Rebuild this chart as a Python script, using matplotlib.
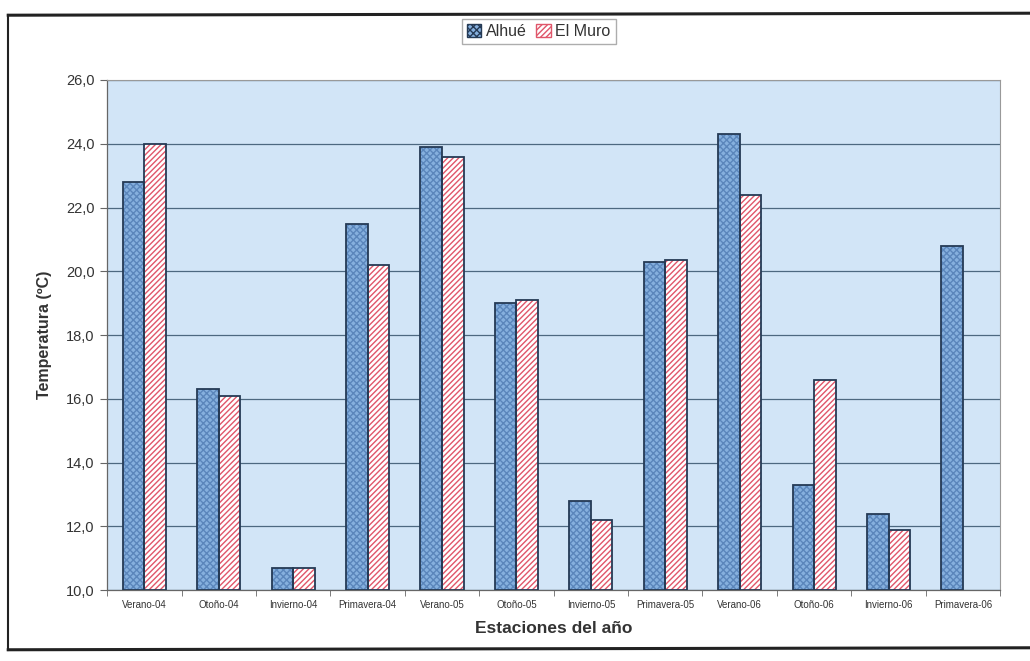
import numpy as np
import matplotlib
matplotlib.use("Agg")
import matplotlib.pyplot as plt
from matplotlib.patches import Patch
from matplotlib.lines import Line2D

estaciones = ["Verano-04", "Otoño-04", "Invierno-04", "Primavera-04",
              "Verano-05", "Otoño-05", "Invierno-05", "Primavera-05",
              "Verano-06", "Otoño-06", "Invierno-06", "Primavera-06"]
alhue = [22.8, 16.3, 10.7, 21.5, 23.9, 19.0, 12.8, 20.3, 24.3, 13.3, 12.4, 20.8]
el_muro = [24.0, 16.1, 10.7, 20.2, 23.6, 19.1, 12.2, 20.35, 22.4, 16.6, 11.9, np.nan]
y_ticks = [10, 12, 14, 16, 18, 20, 22, 24, 26]

plt.rcParams["font.family"] = ["Liberation Sans", "DejaVu Sans"]
plt.rcParams["hatch.linewidth"] = 1.0

fig = plt.figure(figsize=(10.30, 6.61), dpi=100)
ax = fig.add_axes([0.104, 0.107, 0.867, 0.772])
ax.set_facecolor("#d2e5f7")

x = np.arange(len(estaciones))
w = 0.29
base = 10.0
h_alhue = np.array(alhue) - base
h_muro = np.array(el_muro) - base

# fill + hatch, then the dark outline on top
ax.bar(x - w / 2, h_alhue, w, bottom=base, color="#86b0de",
       edgecolor="#5b86bb", hatch="xxxxx", linewidth=0, zorder=3)
ax.bar(x - w / 2, h_alhue, w, bottom=base, fill=False,
       edgecolor="#253a55", linewidth=1.3, zorder=4)
ax.bar(x + w / 2, h_muro, w, bottom=base, color="white",
       edgecolor="#e0566a", hatch="//////", linewidth=0, zorder=3)
ax.bar(x + w / 2, h_muro, w, bottom=base, fill=False,
       edgecolor="#253a55", linewidth=1.3, zorder=4)

ax.set_xlim(-0.5, len(estaciones) - 0.5)
ax.set_ylim(10, 26)
ax.set_yticks(y_ticks)
ax.set_yticklabels([f"{v:.1f}".replace(".", ",") for v in y_ticks],
                   fontsize=10.5, color="#333333")
ax.yaxis.grid(True, color="#4d6880", linewidth=0.9, zorder=1)
ax.set_xticks(x)
ax.set_xticklabels(estaciones, fontsize=7, color="#333333")
ax.set_xticks(np.arange(-0.5, len(estaciones)), minor=True)
ax.tick_params(axis="x", which="major", length=0, pad=7)
ax.tick_params(axis="x", which="minor", length=4, color="#666666")
ax.tick_params(axis="y", length=5, color="#666666", pad=4)

for s in ["top", "right"]:
    ax.spines[s].set_color("#999999")
    ax.spines[s].set_linewidth(0.8)
for s in ["left", "bottom"]:
    ax.spines[s].set_color("#666666")
    ax.spines[s].set_linewidth(0.9)

ax.set_xlabel("Estaciones del año", fontsize=12.5, fontweight="bold",
              color="#333333", labelpad=8)
ax.set_ylabel("Temperatura (ºC)", fontsize=11.5, fontweight="bold",
              color="#333333", labelpad=10)

handles = [
    Patch(facecolor="#86b0de", edgecolor="#253a55", hatch="xxxxx", label="Alhué"),
    Patch(facecolor="white", edgecolor="#e0566a", hatch="//////", label="El Muro"),
]
leg = fig.legend(handles=handles, loc="center", bbox_to_anchor=(0.523, 0.952),
                 ncol=2, fontsize=11.5, frameon=True, fancybox=False,
                 handlelength=0.9, handleheight=0.9, handletextpad=0.3,
                 columnspacing=0.6, borderpad=0.3, edgecolor="#999999")
for t in leg.get_texts():
    t.set_color("#333333")

# scanned page frame
fig.add_artist(Line2D([0.008, 1.0], [0.977, 0.980], color="#222222",
                      linewidth=2.2, transform=fig.transFigure))
fig.add_artist(Line2D([0.008, 0.008], [0.977, 0.017], color="#222222",
                      linewidth=1.5, transform=fig.transFigure))
fig.add_artist(Line2D([0.008, 1.0], [0.017, 0.020], color="#222222",
                      linewidth=2.2, transform=fig.transFigure))

fig.savefig("out.png", dpi=100)
